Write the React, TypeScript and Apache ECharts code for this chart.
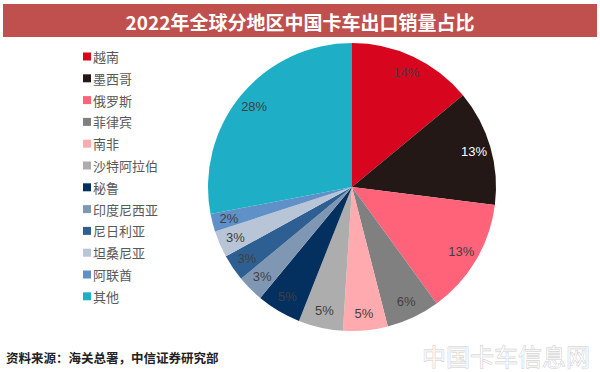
import React, { useEffect, useRef } from "react";
import * as echarts from "echarts";

const regions = ["越南", "墨西哥", "俄罗斯", "菲律宾", "南非", "沙特阿拉伯", "秘鲁", "印度尼西亚", "尼日利亚", "坦桑尼亚", "阿联酋", "其他"];
const shares = [14, 13, 13, 6, 5, 5, 5, 3, 3, 3, 2, 28];
const colors = ["#D7051E", "#231815", "#FF637A", "#808080", "#FFAAAE", "#ADADAD", "#04305F", "#8097B4", "#2E5F93", "#B8C5D6", "#6090C8", "#1EAFC6"];
const labelColors = ["#404040", "#FFFFFF", "#404040", "#404040", "#404040", "#404040", "#404040", "#404040", "#404040", "#404040", "#404040", "#404040"];

const titleText = "2022年全球分地区中国卡车出口销量占比";
const sourceText = "资料来源：海关总署，中信证券研究部";
const watermarkText = "中国卡车信息网";

export default function App() {
  const ref = useRef<HTMLDivElement>(null);
  useEffect(() => {
    if (!ref.current) return;
    const chart = echarts.init(ref.current, null, { renderer: "svg" });
    const font = '"Noto Sans CJK SC", "Microsoft YaHei", sans-serif';
    chart.setOption({
      animation: false,
      backgroundColor: "#FFFFFF",
      textStyle: { fontFamily: font },
      legend: {
        orient: "vertical",
        left: 78,
        top: 45,
        itemWidth: 8,
        itemHeight: 8,
        itemGap: 8.8,
        icon: "rect",
        textStyle: { fontSize: 13, color: "#595959", fontFamily: font, padding: [0, 0, 0, -3] },
        data: regions,
      },
      graphic: [
        {
          type: "rect",
          shape: { x: 3, y: 4, width: 594, height: 33 },
          style: { fill: "#C0504D" },
          silent: true,
        },
        {
          type: "text",
          x: 300,
          y: 21,
          style: {
            text: titleText,
            fill: "#FFFFFF",
            font: `bold 19px ${font}`,
            textAlign: "center",
            textVerticalAlign: "middle",
          },
        },
        {
          type: "text",
          x: 6,
          y: 357,
          style: {
            text: sourceText,
            fill: "#222222",
            font: `bold 12.5px ${font}`,
            textAlign: "left",
            textVerticalAlign: "middle",
          },
        },
        {
          type: "text",
          x: 590,
          y: 355,
          z: 10,
          style: {
            text: watermarkText,
            fill: "rgba(255,255,255,0.6)",
            stroke: "rgba(170,170,170,0.6)",
            lineWidth: 0.8,
            font: `24px ${font}`,
            textAlign: "right",
            textVerticalAlign: "middle",
          },
        },
      ],
      series: [
        {
          type: "pie",
          center: [352, 187],
          radius: [0, 144],
          startAngle: 90,
          clockwise: true,
          label: { show: false },
          labelLine: { show: false },
          data: regions.map((n, i) => ({ name: n, value: shares[i], itemStyle: { color: colors[i] } })),
        },
        {
          type: "pie",
          center: [352, 187],
          radius: [104, 144],
          startAngle: 90,
          clockwise: true,
          silent: true,
          legendHoverLink: false,
          itemStyle: { color: "rgba(0,0,0,0)" },
          label: {
            show: true,
            position: "inside",
            formatter: "{c}%",
            fontSize: 13,
            fontFamily: "Arial, 'Liberation Sans', sans-serif",
          },
          labelLine: { show: false },
          data: regions.map((n, i) => ({
            name: n,
            value: shares[i],
            itemStyle: { color: "rgba(0,0,0,0)" },
            label: { color: labelColors[i] },
          })),
        },
      ],
    });
    return () => chart.dispose();
  }, []);
  return <div ref={ref} style={{ position: "fixed", left: 0, top: 0, width: 600, height: 372 }} />;
}
